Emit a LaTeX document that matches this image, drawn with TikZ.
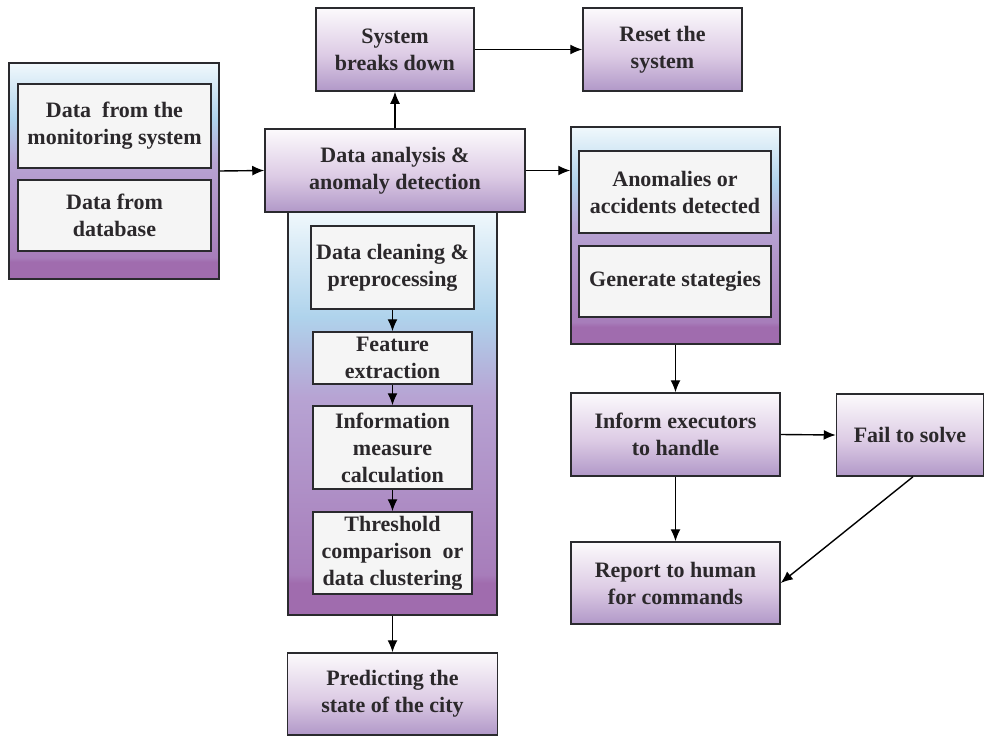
\documentclass[tikz,border=0pt]{standalone}
\usepackage{fontspec}
\setmainfont{Liberation Serif}
\usetikzlibrary{arrows.meta}
\definecolor{txt}{HTML}{2B282B}
\definecolor{bord}{HTML}{2A2A2E}
\definecolor{bxtop}{HTML}{FCFAFC}
\definecolor{bxmid}{HTML}{DDCCE5}
\definecolor{bxbot}{HTML}{B198C8}
\definecolor{cttop}{HTML}{F0F8FC}
\definecolor{ctblue}{HTML}{AFD3EC}
\definecolor{ctlav}{HTML}{B7A3D3}
\definecolor{ctpur}{HTML}{A77DBA}
\definecolor{ctband}{HTML}{A06CAE}
\definecolor{inner}{HTML}{F5F5F5}
\pgfdeclareverticalshading{boxshade}{100bp}{color(0bp)=(bxbot); color(25bp)=(bxbot); color(47bp)=(bxmid); color(75bp)=(bxtop); color(100bp)=(bxtop)}
\pgfdeclareverticalshading{contshade}{100bp}{color(0bp)=(ctband); color(29bp)=(ctband); color(30bp)=(ctpur); color(52bp)=(ctlav); color(62bp)=(ctblue); color(75bp)=(cttop); color(100bp)=(cttop)}
\tikzset{
  lbl/.style={font=\fontsize{22}{27}\selectfont\bfseries, text=txt, align=center},
  mainbox/.style={lbl, draw=bord, line width=1.5pt, shading=boxshade, inner sep=2pt},
  contbox/.style={draw=bord, line width=1.5pt, shading=contshade, inner sep=0pt},
  innerbox/.style={lbl, draw=bord, line width=1.5pt, fill=inner, inner sep=2pt},
  arr/.style={-{Latex[length=12pt,width=10pt]}, line width=1.4pt, draw=black}
}
\begin{document}
\begin{tikzpicture}[x=1pt,y=1pt]
\useasboundingbox (0,0) rectangle (985,-736);
% containers
\node[contbox, minimum width=210pt, minimum height=216pt] (lcont) at (114,-171) {};
\node[contbox, minimum width=209pt, minimum height=403pt] (mcont) at (392.5,-413.5) {};
\node[contbox, minimum width=209pt, minimum height=217pt] (rcont) at (675.5,-235.5) {};
% left inner
\node[innerbox, minimum width=193pt, minimum height=84pt] (lb1) at (114.5,-126) {Data\ \ from the\\monitoring system};
\node[innerbox, minimum width=193pt, minimum height=71pt] (lb2) at (114.5,-215.5) {Data from\\database};
% top boxes
\node[mainbox, minimum width=158pt, minimum height=83pt] (sys) at (395,-49.5) {System\\breaks down};
\node[mainbox, minimum width=159pt, minimum height=83pt] (reset) at (662.5,-49.5) {Reset the\\system};
\node[mainbox, minimum width=260pt, minimum height=83pt] (ana) at (395,-170.5) {Data analysis \&\\anomaly detection};
% middle inner
\node[innerbox, minimum width=163pt, minimum height=83pt] (clean) at (392.5,-267.5) {Data cleaning \&\\preprocessing};
\node[innerbox, minimum width=159pt, minimum height=52pt] (feat) at (392.5,-358) {Feature\\extraction};
\node[innerbox, minimum width=159pt, minimum height=83pt] (info) at (392.5,-447.5) {Information\\measure\\calculation};
\node[innerbox, minimum width=159pt, minimum height=82pt] (thr) at (392.5,-553) {Threshold\\comparison\ \ or\\data clustering};
\node[mainbox, minimum width=210pt, minimum height=82pt] (pred) at (392.5,-694) {Predicting the\\state of the city};
% right inner
\node[innerbox, minimum width=192pt, minimum height=82pt] (anom) at (675,-192) {Anomalies or\\accidents detected};
\node[innerbox, minimum width=192pt, minimum height=71pt] (gen) at (675,-281.5) {Generate stategies};
\node[mainbox, minimum width=209pt, minimum height=83pt] (inform) at (675.5,-434.5) {Inform executors\\to handle};
\node[mainbox, minimum width=147pt, minimum height=82pt] (fail) at (910,-435) {Fail to solve};
\node[mainbox, minimum width=209pt, minimum height=82pt] (report) at (675.5,-583) {Report to human\\for commands};
% arrows
\draw[arr] (lcont.east) -- (ana.west);
\draw[arr] (ana.north) -- (sys.south);
\draw[arr] (sys.east) -- (reset.west);
\draw[arr] (ana.east) -- (ana.east -| rcont.west);
\draw[arr] (clean.south) -- (feat.north);
\draw[arr] (feat.south) -- (info.north);
\draw[arr] (info.south) -- (thr.north);
\draw[arr] (mcont.south) -- (pred.north);
\draw[arr] (rcont.south) -- (inform.north);
\draw[arr] (inform.east) -- (fail.west);
\draw[arr] (inform.south) -- (report.north);
\draw[arr] ([xshift=3pt]fail.south) -- (report.east);
\end{tikzpicture}
\end{document}
